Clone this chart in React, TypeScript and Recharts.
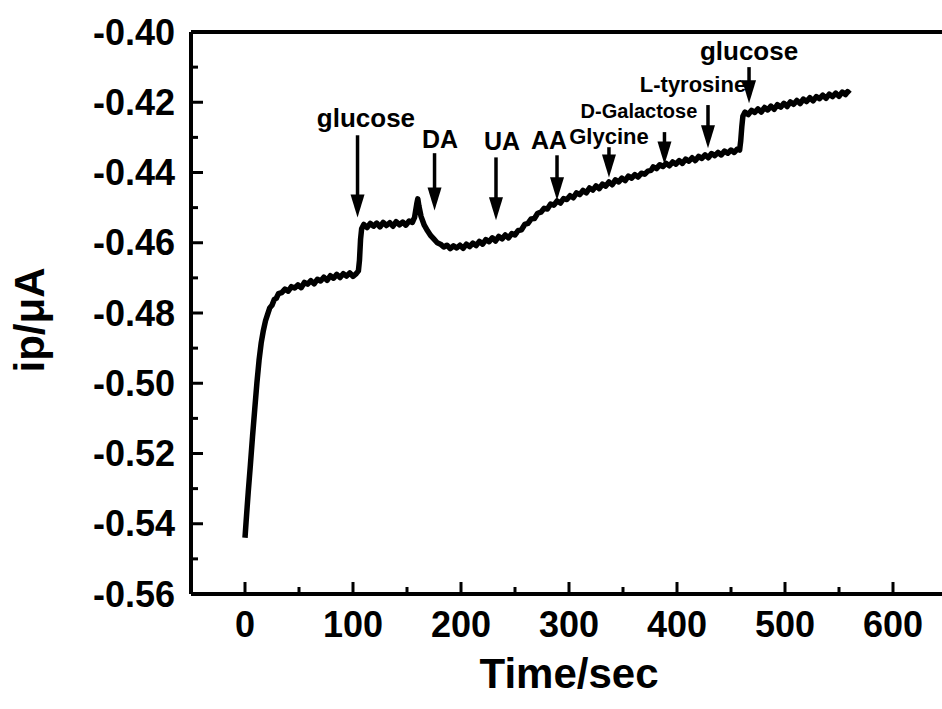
import React from 'react';
import { LineChart, Line, XAxis, YAxis, ReferenceLine, ReferenceDot } from 'recharts';

// ---- data ----
const times = [
  0, 1, 2, 3, 5, 7, 9, 11, 13, 15, 17, 19, 21, 23, 25, 27, 29, 31, 34, 37, 40, 43, 46, 49, 52, 55, 58, 61, 64, 67,
  70, 73, 76, 79, 82, 85, 88, 91, 94, 97, 100, 103, 105, 106, 107, 108, 110, 113, 116, 119, 122, 125, 128, 131, 134,
  137, 140, 143, 146, 149, 152, 155, 157, 159, 160, 161, 163, 166, 169, 172, 175, 178, 181, 184, 187, 190, 193, 196,
  199, 202, 205, 208, 211, 214, 217, 220, 223, 226, 229, 232, 235, 238, 241, 244, 247, 250, 253, 256, 259, 262, 265,
  268, 271, 274, 277, 280, 283, 286, 289, 292, 295, 298, 301, 304, 307, 310, 313, 316, 319, 322, 325, 328, 331, 334,
  337, 340, 343, 346, 349, 352, 355, 358, 361, 364, 367, 370, 373, 376, 378, 381, 384, 387, 390, 393, 396, 399, 402,
  405, 408, 411, 414, 417, 420, 423, 426, 429, 432, 435, 438, 441, 444, 447, 450, 453, 456, 458, 459, 460, 461, 463,
  466, 469, 472, 475, 478, 481, 484, 487, 490, 493, 496, 499, 502, 505, 508, 511, 514, 517, 520, 523, 526, 529, 532,
  535, 538, 541, 544, 547, 550, 553, 556, 558, 560,
];

const currents = [
  -0.544, -0.5395, -0.5352, -0.531, -0.5232, -0.515, -0.5075, -0.5, -0.4935, -0.4885, -0.485, -0.4822, -0.4803,
  -0.4785, -0.4778, -0.4762, -0.4758, -0.4745, -0.4742, -0.4732, -0.4738, -0.4725, -0.4729, -0.472, -0.4728, -0.4713,
  -0.4718, -0.4708, -0.4717, -0.4704, -0.4709, -0.4698, -0.4707, -0.4694, -0.4701, -0.469, -0.4699, -0.4688, -0.4695,
  -0.4686, -0.4696, -0.4688, -0.468, -0.465, -0.459, -0.456, -0.4548, -0.4557, -0.4545, -0.4553, -0.4544, -0.4555,
  -0.4542, -0.4551, -0.4543, -0.4553, -0.454, -0.4549, -0.4541, -0.455, -0.4538, -0.4542, -0.4528, -0.449, -0.4475,
  -0.4495, -0.4525, -0.455, -0.4566, -0.458, -0.459, -0.46, -0.4604, -0.4612, -0.4607, -0.4617, -0.4609, -0.4615,
  -0.4607, -0.4616, -0.4604, -0.4611, -0.4601, -0.4608, -0.4596, -0.4604, -0.4591, -0.4597, -0.4586, -0.4595, -0.4582,
  -0.4589, -0.4578, -0.4586, -0.4574, -0.4578, -0.4565, -0.4563, -0.4548, -0.4545, -0.4532, -0.4531, -0.4516, -0.4513,
  -0.4502, -0.4504, -0.449, -0.4493, -0.4481, -0.4487, -0.4474, -0.4477, -0.4466, -0.4472, -0.4458, -0.4463, -0.4451,
  -0.4458, -0.4444, -0.445, -0.4438, -0.4446, -0.4433, -0.4439, -0.4427, -0.4435, -0.4421, -0.4427, -0.4416, -0.4423,
  -0.441, -0.4416, -0.4406, -0.4413, -0.4402, -0.4405, -0.4396, -0.4394, -0.4384, -0.4389, -0.4378, -0.4383, -0.4374,
  -0.4381, -0.437, -0.4376, -0.4366, -0.4374, -0.4362, -0.4368, -0.4358, -0.4366, -0.4354, -0.436, -0.435, -0.4358,
  -0.4346, -0.4352, -0.4343, -0.435, -0.4339, -0.4345, -0.4336, -0.4343, -0.4333, -0.4336, -0.431, -0.427, -0.424,
  -0.4228, -0.4235, -0.4223, -0.4229, -0.4219, -0.4228, -0.4215, -0.4222, -0.4211, -0.422, -0.4207, -0.4214, -0.4203,
  -0.4212, -0.4199, -0.4206, -0.4195, -0.4204, -0.4191, -0.4198, -0.4187, -0.4196, -0.4184, -0.419, -0.418, -0.4189,
  -0.4177, -0.4184, -0.4174, -0.4183, -0.4171, -0.4178, -0.417, -0.4176,
];

const xMajorTicks = [0, 100, 200, 300, 400, 500, 600];
const xMinorTicks = [50, 150, 250, 350, 450, 550];
const yMajorTicks = [-0.56, -0.54, -0.52, -0.5, -0.48, -0.46, -0.44, -0.42, -0.4];
const yMinorTicks = [-0.55, -0.53, -0.51, -0.49, -0.47, -0.45, -0.43, -0.41];

// annotations (arrows + labels), in data units
const annLabels = ['glucose', 'DA', 'UA', 'AA', 'Glycine', 'D-Galactose', 'L-tyrosine', 'glucose'];
const annArrowTimes = [104.2, 175.5, 232.4, 288.9, 337, 388.4, 428.7, 466.7];
const annArrowTops = [-0.4294, -0.4345, -0.4357, -0.4351, -0.4328, -0.4285, -0.4208, -0.41];
const annArrowTips = [-0.4528, -0.4508, -0.4536, -0.4479, -0.4414, -0.4377, -0.4331, -0.4203];
const annLabelTimes = [112, 180.6, 238, 281.5, 337, 364.8, 414.8, 466.7];
const annLabelLevels = [-0.4271, -0.4331, -0.4337, -0.4334, -0.4319, -0.4245, -0.4171, -0.408];

// ---- styles ----
const FONT = '"Liberation Sans", Arial, Helvetica, sans-serif';
const annFontSizes = [26, 25, 25, 25, 22, 20, 22, 26];

const chartData = times.map((t, i) => ({ t, v: currents[i] }));
const xTicks = [...xMajorTicks, ...xMinorTicks].sort((a, b) => a - b);
const yTicks = [...yMajorTicks, ...yMinorTicks].sort((a, b) => a - b);

const XTick = (props: any) => {
  const { x, y, payload } = props;
  const v = payload.value;
  const major = xMajorTicks.includes(v);
  const len = major ? 12 : 7;
  return (
    <g>
      <line x1={x} y1={y} x2={x} y2={y - len} stroke="#000" strokeWidth={3} />
      {major && (
        <text x={x} y={y + 43} textAnchor="middle" fontSize={36} fontWeight="bold" fontFamily={FONT} fill="#000">
          {v}
        </text>
      )}
    </g>
  );
};

const YTick = (props: any) => {
  const { x, y, payload } = props;
  const v = payload.value;
  const major = Math.round(Math.abs(v) * 100) % 2 === 0;
  const len = major ? 12 : 7;
  return (
    <g>
      <line x1={x} y1={y} x2={x + len} y2={y} stroke="#000" strokeWidth={3} />
      {major && (
        <text x={x - 16} y={y + 12.5} textAnchor="end" fontSize={36} fontWeight="bold" fontFamily={FONT} fill="#000">
          {v.toFixed(2)}
        </text>
      )}
    </g>
  );
};

const ArrowShape = (props: any) => {
  const { x1, y1, x2, y2 } = props;
  const x = (x1 + x2) / 2;
  const top = Math.min(y1, y2);
  const tip = Math.max(y1, y2);
  const headLen = 23;
  const headHalf = 7;
  return (
    <g>
      <line x1={x} y1={top} x2={x} y2={tip - headLen + 2} stroke="#000" strokeWidth={3.5} />
      <polygon points={`${x - headHalf},${tip - headLen} ${x + headHalf},${tip - headLen} ${x},${tip}`} fill="#000" />
    </g>
  );
};

const makeLabelShape = (text: string, size: number) => (props: any) => {
  const { cx, cy } = props;
  return (
    <text x={cx} y={cy} textAnchor="middle" fontSize={size} fontWeight="bold" fontFamily={FONT} fill="#000">
      {text}
    </text>
  );
};

const XTitle = (props: any) => {
  const vb = props.viewBox || { x: 191, y: 594, width: 756, height: 115 };
  return (
    <text
      x={vb.x + vb.width / 2}
      y={vb.y + 94}
      textAnchor="middle"
      fontSize={42}
      fontWeight="bold"
      fontFamily={FONT}
      fill="#000"
    >
      Time/sec
    </text>
  );
};

const YTitle = (props: any) => {
  const vb = props.viewBox || { x: 0, y: 32, width: 191, height: 562 };
  const cx = vb.x + 44;
  const cy = vb.y + vb.height / 2 + 7;
  return (
    <text
      x={cx}
      y={cy}
      transform={`rotate(-90, ${cx}, ${cy})`}
      textAnchor="middle"
      fontSize={42}
      fontWeight="bold"
      fontFamily={FONT}
      fill="#000"
    >
      ip/μA
    </text>
  );
};

export default function App() {
  return (
    <div
      style={{
        position: 'absolute',
        left: 0,
        top: 0,
        width: 942,
        height: 709,
        overflow: 'hidden',
        background: '#fff',
      }}
    >
      <LineChart width={960} height={709} data={chartData} margin={{ top: 32, right: 13, bottom: 0, left: 0 }}>
        <XAxis
          dataKey="t"
          type="number"
          domain={[-50, 650]}
          ticks={xTicks}
          interval={0}
          tickSize={0}
          tickMargin={0}
          tickLine={false}
          tick={<XTick />}
          height={115}
          axisLine={{ stroke: '#000', strokeWidth: 4 }}
          label={(p: any) => <XTitle {...p} />}
        />
        <YAxis
          type="number"
          domain={[-0.56, -0.4]}
          ticks={yTicks}
          interval={0}
          tickSize={0}
          tickMargin={0}
          tickLine={false}
          tick={<YTick />}
          width={191}
          axisLine={{ stroke: '#000', strokeWidth: 4 }}
          label={(p: any) => <YTitle {...p} />}
        />
        <ReferenceLine y={-0.4} stroke="#000" strokeWidth={4} ifOverflow="visible" />
        <ReferenceLine x={650} stroke="#000" strokeWidth={4} ifOverflow="visible" />
        <Line
          type="linear"
          dataKey="v"
          stroke="#000"
          strokeWidth={5.5}
          strokeLinejoin="round"
          dot={false}
          isAnimationActive={false}
        />
        {annLabels.map((lab, i) => (
          <ReferenceLine
            key={`arrow-${i}`}
            segment={[
              { x: annArrowTimes[i], y: annArrowTops[i] },
              { x: annArrowTimes[i], y: annArrowTips[i] },
            ]}
            ifOverflow="visible"
            shape={(p: any) => <ArrowShape {...p} />}
          />
        ))}
        {annLabels.map((lab, i) => (
          <ReferenceDot
            key={`lab-${i}`}
            x={annLabelTimes[i]}
            y={annLabelLevels[i]}
            r={0}
            ifOverflow="visible"
            shape={makeLabelShape(lab, annFontSizes[i])}
          />
        ))}
      </LineChart>
    </div>
  );
}
